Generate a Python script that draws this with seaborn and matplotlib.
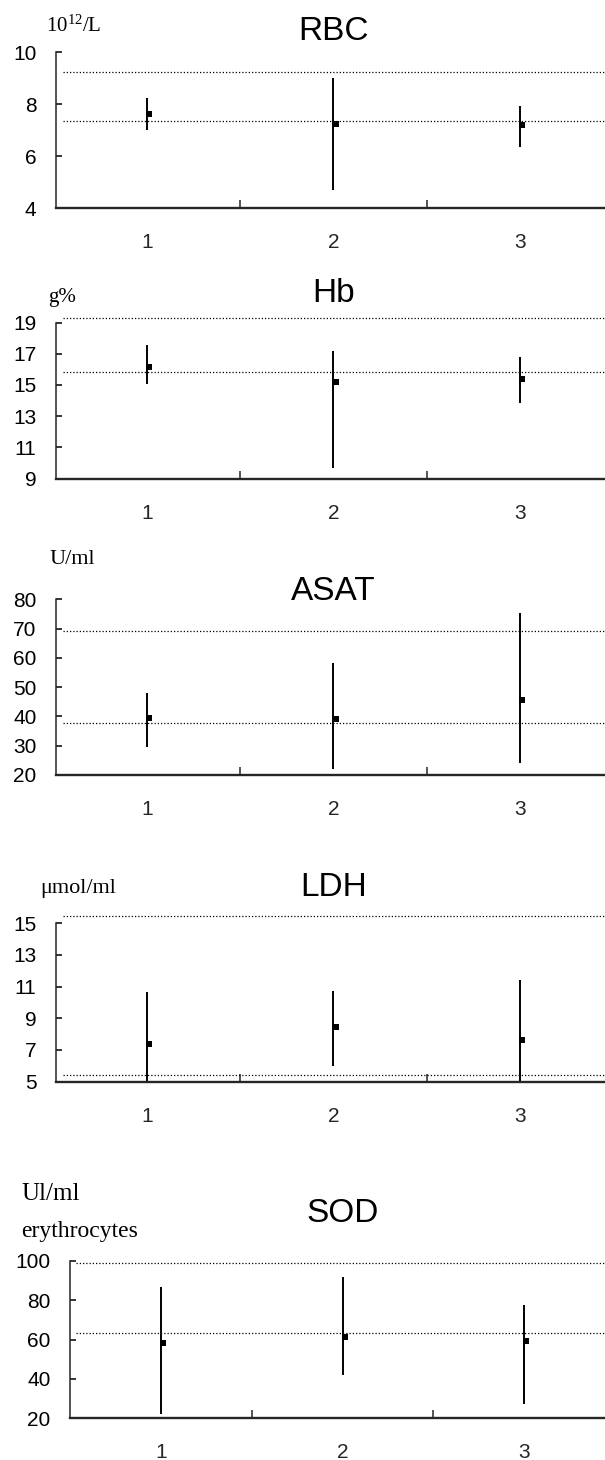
import matplotlib
matplotlib.use("Agg")
import matplotlib.pyplot as plt
import matplotlib.transforms as mtransforms
import seaborn as sns

# ---------------- data ----------------
groups = [1, 2, 3]
group_labels = ["1", "2", "3"]

rbc_mean = [7.62, 7.23, 7.19]
rbc_low = [7.00, 4.69, 6.36]
rbc_high = [8.22, 8.99, 7.92]
rbc_ref = [9.24, 7.33]
rbc_ticks = [4, 6, 8, 10]

hb_mean = [16.16, 15.17, 15.35]
hb_low = [15.03, 9.69, 13.85]
hb_high = [17.53, 17.20, 16.78]
hb_ref = [19.30, 15.81]
hb_ticks = [9, 11, 13, 15, 17, 19]

asat_mean = [39.4, 39.1, 45.6]
asat_low = [29.7, 22.0, 24.0]
asat_high = [47.9, 58.4, 75.4]
asat_ref = [69.3, 37.7]
asat_ticks = [20, 30, 40, 50, 60, 70, 80]

ldh_mean = [7.38, 8.43, 7.60]
ldh_low = [5.0, 5.96, 5.0]
ldh_high = [10.66, 10.70, 11.44]
ldh_ref = [15.46, 5.41]
ldh_ticks = [5, 7, 9, 11, 13, 15]

sod_mean = [58.3, 61.3, 59.2]
sod_low = [22.0, 42.0, 27.0]
sod_high = [86.7, 91.7, 77.5]
sod_ref = [99.2, 63.3]
sod_ticks = [20, 40, 60, 80, 100]

titles = ["RBC", "Hb", "ASAT", "LDH", "SOD"]

# ---------------- style ----------------
sns.set_theme(style="ticks")
plt.rcParams["font.family"] = ["Liberation Sans", "DejaVu Sans"]
plt.rcParams["mathtext.fontset"] = "custom"
plt.rcParams["mathtext.rm"] = "Liberation Serif"

W, H = 605, 1460
fig = plt.figure(figsize=(W / 100, H / 100), dpi=100)

def px_axes(left, top, bottom, right=W):
    return fig.add_axes([left / W, 1 - bottom / H, (right - left) / W, (bottom - top) / H])

panels = [
    dict(mean=rbc_mean, low=rbc_low, high=rbc_high, ref=rbc_ref, ticks=rbc_ticks,
         ylim=(4, 10), box=(56, 52, 208), xlim=(0.514, 3.455), title_y=31),
    dict(mean=hb_mean, low=hb_low, high=hb_high, ref=hb_ref, ticks=hb_ticks,
         ylim=(9, 19.45), box=(56, 315.5, 478.5), xlim=(0.514, 3.455), title_y=294),
    dict(mean=asat_mean, low=asat_low, high=asat_high, ref=asat_ref, ticks=asat_ticks,
         ylim=(20, 80), box=(56, 599.3, 775), xlim=(0.514, 3.455), title_y=592),
    dict(mean=ldh_mean, low=ldh_low, high=ldh_high, ref=ldh_ref, ticks=ldh_ticks,
         ylim=(5, 15.6), box=(56, 913.8, 1081.5), xlim=(0.514, 3.455), title_y=887),
    dict(mean=sod_mean, low=sod_low, high=sod_high, ref=sod_ref, ticks=sod_ticks,
         ylim=(20, 100), box=(70, 1261, 1418), xlim=(0.4986, 3.446), title_y=1214),
]

for p, title in zip(panels, titles):
    left, top, bottom = p["box"]
    ax = px_axes(left, top, bottom)
    ax.set_xlim(*p["xlim"])
    ax.set_ylim(*p["ylim"])

    # reference (normal range) lines
    for r in p["ref"]:
        ax.axhline(r, xmin=0.012, xmax=1.0, color="black", lw=0.9,
                   linestyle=(0, (1, 1.6)), zorder=1)

    # range bars
    ax.vlines(groups, p["low"], p["high"], colors="black", lw=1.4, zorder=2)

    # means
    sns.scatterplot(x=groups, y=p["mean"], ax=ax, marker="s", s=16,
                    color="black", linewidth=0, zorder=3, legend=False)
    coll = ax.collections[-1]
    coll.set_offset_transform(ax.transData + mtransforms.ScaledTranslation(1.6 / 72, 0, fig.dpi_scale_trans))

    # axes styling
    for s in ["top", "right"]:
        ax.spines[s].set_visible(False)
    ax.spines["left"].set_linewidth(1.1)
    ax.spines["bottom"].set_linewidth(1.7)
    ax.spines["left"].set_bounds(p["ticks"][0], p["ticks"][-1])

    ax.set_yticks(p["ticks"])
    ax.set_yticklabels([str(t) for t in p["ticks"]])
    ax.tick_params(axis="y", direction="in", length=4, width=1.1, pad=14,
                   labelsize=15, colors="black")

    ax.set_xticks(groups)
    ax.set_xticklabels(group_labels)
    ax.tick_params(axis="x", which="major", length=0, pad=18, labelsize=15)
    ax.set_xticks([1.5, 2.5], minor=True)
    ax.tick_params(axis="x", which="minor", direction="in", length=6, width=1.1)
    ax.set_xlabel("")
    ax.set_ylabel("")
    ax.patch.set_alpha(0)

    trans = mtransforms.blended_transform_factory(ax.transData, fig.transFigure)
    ax.text(2, 1 - p["title_y"] / H, title, transform=trans, ha="center",
            va="center", fontsize=24, color="black")

# unit labels (serif)
serif = ["Liberation Serif", "DejaVu Serif"]
def unit(x, y_base, s, size=15):
    fig.text(x / W, 1 - y_base / H, s, ha="left", va="baseline",
             fontsize=size, family=serif, color="black")

unit(46, 31.5, r"$\mathregular{10^{12}}$/L", 15)
unit(48, 302, "g%", 15)
unit(50, 564, "U/ml", 16)
unit(40, 893, "\u03bcmol/ml", 16)
unit(21, 1200, "Ul/ml", 18)
unit(21, 1237, "erythrocytes", 17)

fig.savefig("out.png", dpi=100)
